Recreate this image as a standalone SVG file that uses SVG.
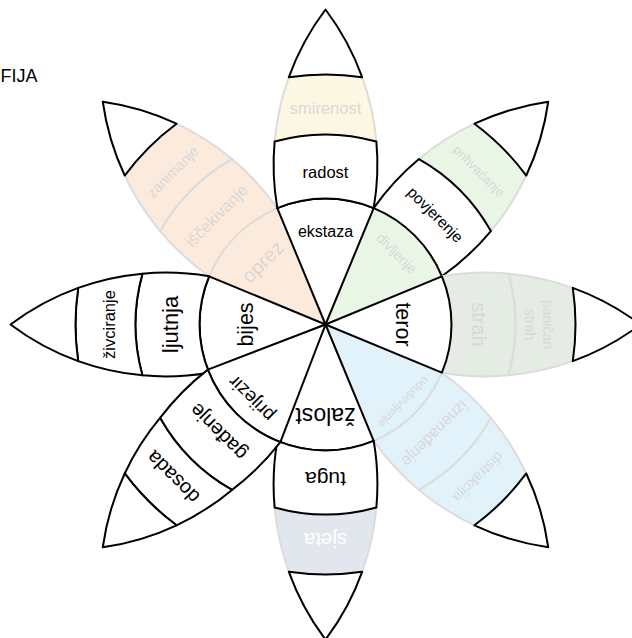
<svg xmlns="http://www.w3.org/2000/svg" width="632" height="638" viewBox="0 0 632 638">
<style>
  .k{fill:#fff;stroke:#000;stroke-width:2;stroke-linejoin:round}
  .f{stroke:#dcdcdc;stroke-width:2;stroke-linejoin:round}
  text{font-family:"Liberation Sans",Arial,Helvetica,sans-serif;text-anchor:middle}
  .t{fill:#000}
  .ft{fill:#d8d8d8}
  .joy{fill:#fcf7e3}
  .tru{fill:#eaf6e5}
  .fea{fill:#e4ece3}
  .sur{fill:#e2f2fa}
  .sad{fill:#e2e7ed}
  .ant{fill:#fcebdd}
</style>
<defs>
  <path id="b1" d="M0,0 L-48.2,-116.4 A126,126 0 0 1 48.2,-116.4 Z"/>
  <path id="b2" d="M-48.2,-116.4 A257,257 0 0 1 -50.87,-183.05 A190,190 0 0 1 50.87,-183.05 A257,257 0 0 1 48.2,-116.4 A126,126 0 0 0 -48.2,-116.4 Z"/>
  <path id="b3" d="M-50.87,-183.05 A257,257 0 0 1 -36.65,-247.3 A250,250 0 0 1 36.65,-247.3 A257,257 0 0 1 50.87,-183.05 A190,190 0 0 0 -50.87,-183.05 Z"/>
  <path id="b4" d="M-36.65,-247.3 A257,257 0 0 1 0,-315 A257,257 0 0 1 36.65,-247.3 A250,250 0 0 0 -36.65,-247.3 Z"/>
  <path id="d1" d="M0,0 L-51.25,-115.1 A126,126 0 0 1 51.25,-115.1 Z"/>
  <path id="d2" d="M-51.25,-115.1 A257,257 0 0 1 -50.87,-183.05 A190,190 0 0 1 50.87,-183.05 A257,257 0 0 1 51.25,-115.1 A126,126 0 0 0 -51.25,-115.1 Z"/>
</defs>
<rect width="632" height="638" fill="#fff"/>
<text x="0.5" y="82" font-size="18" class="t" style="text-anchor:start">FIJA</text>

<g id="connectors"></g>

<g id="petal-trust" transform="translate(325.5,324.5) rotate(45)">
  <use href="#b1" class="f tru"/>
  <use href="#b3" class="f tru"/>
  <use href="#b2" class="k"/>
  <use href="#b4" class="k"/>
  <text y="-96" font-size="14" class="ft">divljenje</text>
  <text y="-150" font-size="15.5" class="t">povjerenje</text>
  <text y="-212.5" font-size="13" class="ft">prihvaćanje</text>
</g>

<g id="petal-surprise" transform="translate(325.5,324.5) rotate(135)">
  <use href="#b1" class="f sur"/>
  <use href="#b2" class="f sur"/>
  <use href="#b3" class="f sur"/>
  <use href="#b4" class="k"/>
  <text y="-106" font-size="12" class="ft">oduševljenje</text>
  <text y="-149" font-size="16" class="ft">iznenađenje</text>
  <text y="-211" font-size="14.5" class="ft">distrakcija</text>
</g>

<g id="petal-anticipation" transform="translate(325.5,324.5) rotate(315)">
  <use href="#b1" class="f ant"/>
  <use href="#b2" class="f ant"/>
  <use href="#b3" class="f ant"/>
  <use href="#b4" class="k"/>
  <text y="-82" font-size="20" class="ft">oprez</text>
  <text y="-148.5" font-size="16.5" class="ft">iščekivanje</text>
  <text y="-211" font-size="14.5" class="ft">zanimanje</text>
</g>

<g id="petal-joy" transform="translate(325.5,324.5)">
  <use href="#b3" class="f joy"/>
  <use href="#b1" class="k"/>
  <use href="#b2" class="k"/>
  <use href="#b4" class="k"/>
  <text y="-87.5" font-size="16" class="t">ekstaza</text>
  <text y="-147" font-size="16.5" class="t">radost</text>
  <text y="-210.5" font-size="16.5" class="ft">smirenost</text>
</g>

<g id="petal-fear" transform="translate(325.5,324.5) rotate(90)">
  <use href="#b2" class="f fea"/>
  <use href="#b3" class="f fea"/>
  <use href="#b1" class="k"/>
  <use href="#b4" class="k"/>
  <text y="-70.5" font-size="21.5" class="t">teror</text>
  <text y="-146" font-size="20" class="ft">strah</text>
  <text y="-217" font-size="14" class="ft">paničan</text>
  <text y="-199" font-size="14" class="ft">strah</text>
</g>

<g id="petal-sadness" transform="translate(325.5,324.5) rotate(180)">
  <use href="#b3" class="f sad"/>
  <use href="#b1" class="k"/>
  <use href="#b2" class="k"/>
  <use href="#b4" class="k"/>
  <text y="-83" font-size="23" class="t">žalost</text>
  <text y="-147.5" font-size="21" class="t">tuga</text>
  <text y="-208" font-size="20.5" fill="#fff">sjeta</text>
</g>

<g id="petal-anger" transform="translate(325.5,324.5) rotate(270)">
  <use href="#b1" class="k"/>
  <use href="#b2" class="k"/>
  <use href="#b3" class="k"/>
  <use href="#b4" class="k"/>
  <text y="-72.5" font-size="21.5" class="t">bijes</text>
  <text y="-147.5" font-size="22" class="t">ljutnja</text>
  <text y="-211" font-size="16.5" class="t">živciranje</text>
</g>

<g id="petal-disgust" transform="translate(325.5,324.5) rotate(225)">
  <use href="#d1" class="k"/>
  <use href="#d2" class="k"/>
  <use href="#b3" class="k"/>
  <use href="#b4" class="k"/>
  <text y="-98.5" font-size="19" class="t">prijezir</text>
  <text y="-145" font-size="20" class="t">gađenje</text>
  <text y="-209" font-size="20" class="t">dosada</text>
</g>
</svg>
